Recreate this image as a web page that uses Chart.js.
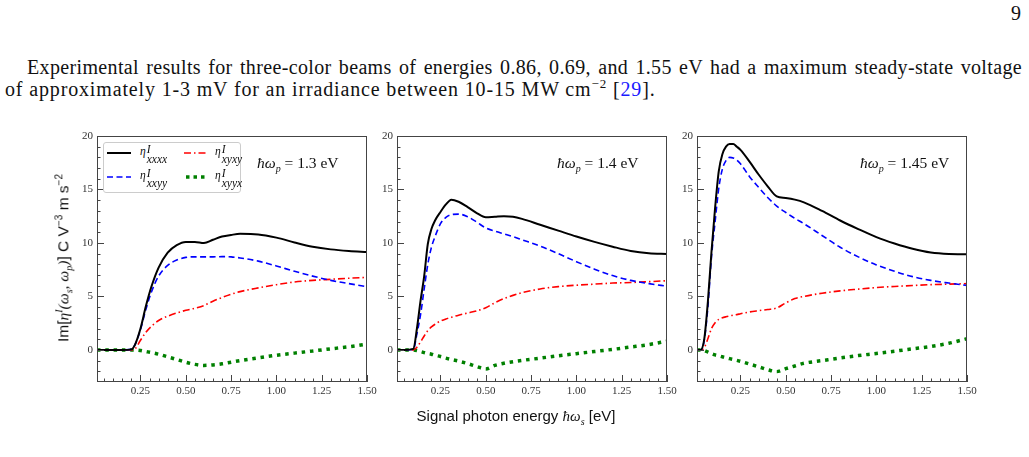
<!DOCTYPE html>
<html>
<head>
<meta charset="utf-8">
<script src="https://cdn.jsdelivr.net/npm/chart.js@4.4.1/dist/chart.umd.min.js"></script>
<style>
  body { margin: 0; width: 1029px; height: 457px; background: #fff; position: relative; overflow: hidden; font-family: "Liberation Serif", serif; color: #111; }
  .abs { position: absolute; white-space: nowrap; }
  .para { position: absolute; font-size: 20px; line-height: 22px; white-space: nowrap; }
  .panel { position: absolute; top: 130px; width: 314px; height: 274px; }
  .note { position: absolute; top: 154px; font-size: 15.5px; }
  .m { font-style: italic; }
  .legend { position: absolute; left: 103px; top: 142px; width: 136px; height: 49px; border: 1px solid #ccc; border-radius: 3px; background: #fff; }
  .legend span { position: absolute; font-size: 11.5px; font-style: italic; }
  .ss { display: inline-block; vertical-align: middle; line-height: 0.85; font-size: 6.5px; margin-left: 1px; }
  .ss b { display: block; font-weight: normal; }
  .sans { font-family: "Liberation Sans", Arial, sans-serif; }
</style>
</head>
<body>

<div class="abs" style="left:1011px; top:2px; font-size:20px;">9</div>
<div class="para" style="left:27px; top:56px; width:995px; letter-spacing:0.35px; text-align:justify; text-align-last:justify;">Experimental results for three-color beams of energies 0.86, 0.69, and 1.55 eV had a maximum steady-state voltage</div>
<div class="para" style="left:5px; top:78px; letter-spacing:0.85px;">of approximately 1-3 mV for an irradiance between 10-15 MW cm<sup style="font-size:13px; line-height:0;">−2</sup> [<span style="color:#1a1aff">29</span>].</div>

<div class="panel" style="left:65px;"><canvas id="c1" width="314" height="274"></canvas></div>
<div class="panel" style="left:365px;"><canvas id="c2" width="314" height="274"></canvas></div>
<div class="panel" style="left:665px;"><canvas id="c3" width="314" height="274"></canvas></div>

<div class="legend">
  <svg width="136" height="49" style="position:absolute;left:0;top:0">
    <line x1="3" y1="10" x2="27" y2="10" stroke="#000" stroke-width="2"/>
    <line x1="80" y1="10" x2="103" y2="10" stroke="#ff0000" stroke-width="1.6" stroke-dasharray="7 3 1.5 3"/>
    <line x1="3" y1="34" x2="27" y2="34" stroke="#0000ff" stroke-width="1.6" stroke-dasharray="6 3.5"/>
    <line x1="82" y1="34" x2="104" y2="34" stroke="#008000" stroke-width="3.5" stroke-dasharray="3.5 4"/>
  </svg>
  <span style="left:36px; top:2px;">η<span class="ss"><b>I</b><b>xxxx</b></span></span>
  <span style="left:111px; top:2px;">η<span class="ss"><b>I</b><b>xyxy</b></span></span>
  <span style="left:36px; top:26px;">η<span class="ss"><b>I</b><b>xxyy</b></span></span>
  <span style="left:111px; top:26px;">η<span class="ss"><b>I</b><b>xyyx</b></span></span>
</div>

<div class="abs note" style="left:257px;"><span class="m">ħω<sub style="font-size:10px">p</sub></span> = 1.3 eV</div>
<div class="abs note" style="left:557px;"><span class="m">ħω<sub style="font-size:10px">p</sub></span> = 1.4 eV</div>
<div class="abs note" style="left:860px;"><span class="m">ħω<sub style="font-size:10px">p</sub></span> = 1.45 eV</div>

<div class="abs sans" style="left:64px; top:258px; font-size:15.5px; transform:translate(-50%,-50%) rotate(-90deg);">Im[<span class="m" style="font-family:'Liberation Serif',serif">η<sup style="font-size:10px">I</sup>(ω<sub style="font-size:10px">s</sub>, ω<sub style="font-size:10px">p</sub>)</span>] C V<sup style="font-size:10px">−3</sup> m s<sup style="font-size:10px">−2</sup></div>

<div class="abs sans" style="left:516px; top:417px; font-size:15px; transform:translate(-50%,-50%);">Signal photon energy <span class="m" style="font-family:'Liberation Serif',serif">ħω<sub style="font-size:10px">s</sub></span> [eV]</div>

<script>
// signal photon energy grids (eV) and Im[eta] components
const energy1 = [0.01,0.05,0.10,0.15,0.20,0.22,0.25,0.28,0.31,0.35,0.40,0.45,0.50,0.55,0.60,0.65,0.70,0.75,0.80,0.90,1.00,1.10,1.20,1.30,1.40,1.50];
const xxxx1 = [0,0,0,0,0.05,0.5,2.0,4.1,5.9,7.7,9.1,9.8,10.1,10.1,10.0,10.3,10.6,10.75,10.85,10.8,10.5,10.05,9.65,9.4,9.25,9.15];
const xxyy1 = [0,0,0,0,0.05,0.5,1.9,3.8,5.4,6.9,7.9,8.4,8.65,8.7,8.7,8.7,8.72,8.7,8.6,8.3,7.85,7.35,6.9,6.5,6.2,5.9];
const xyxy1 = [0,0,0,0,0,0.1,0.9,1.65,2.2,2.75,3.15,3.45,3.7,3.9,4.15,4.55,4.9,5.2,5.45,5.8,6.1,6.35,6.5,6.6,6.7,6.78];
const xyyx1 = [0,0,0,0,0,0,-0.05,-0.15,-0.25,-0.4,-0.65,-0.9,-1.15,-1.35,-1.45,-1.4,-1.3,-1.15,-1.0,-0.75,-0.5,-0.3,-0.1,0.1,0.3,0.55];

const energy2 = [0.01,0.05,0.10,0.12,0.14,0.16,0.18,0.20,0.22,0.25,0.28,0.31,0.35,0.40,0.45,0.50,0.55,0.60,0.65,0.70,0.80,0.90,1.00,1.10,1.20,1.30,1.40,1.50];
const xxxx2 = [0,0,0.1,2.0,4.6,6.9,9.9,11.3,12.1,12.9,13.6,14.05,13.85,13.35,12.8,12.4,12.45,12.5,12.45,12.25,11.7,11.15,10.6,10.1,9.65,9.25,9.03,8.97];
const xxyy2 = [0,0,0.05,1.5,3.3,5.7,8.0,9.6,10.6,11.8,12.4,12.65,12.7,12.45,11.95,11.4,11.1,10.85,10.6,10.3,9.7,9.0,8.25,7.55,6.95,6.5,6.2,5.95];
const xyxy2 = [0,0,0,0.25,0.75,1.3,1.8,2.15,2.4,2.7,2.9,3.05,3.25,3.45,3.65,3.95,4.4,4.8,5.1,5.35,5.7,5.92,6.05,6.15,6.25,6.3,6.38,6.47];
const xyyx2 = [0,0,0,-0.05,-0.15,-0.25,-0.33,-0.4,-0.5,-0.62,-0.77,-0.9,-1.05,-1.28,-1.55,-1.78,-1.45,-1.25,-1.1,-0.98,-0.77,-0.55,-0.35,-0.15,0.05,0.27,0.5,0.82];

const energy3 = [0.01,0.03,0.05,0.07,0.09,0.11,0.13,0.15,0.17,0.19,0.21,0.23,0.25,0.30,0.35,0.40,0.45,0.50,0.55,0.60,0.70,0.80,0.90,1.00,1.10,1.20,1.30,1.40,1.50];
const xxxx3 = [0,0,1.0,4.5,9.2,13.3,16.7,18.3,19.0,19.25,19.25,19.0,18.7,17.6,16.4,15.3,14.35,14.2,14.05,13.8,13.0,12.1,11.3,10.55,9.95,9.45,9.1,8.97,8.95];
const xxyy3 = [0,0,0.9,4.0,8.7,12.0,15.1,16.9,17.7,18.0,17.95,17.75,17.4,16.2,15.2,14.25,13.45,12.85,12.3,11.8,10.7,9.6,8.7,7.95,7.35,6.85,6.5,6.25,6.03];
const xyxy3 = [0,0,0.2,1.05,2.0,2.55,2.85,3.0,3.1,3.18,3.25,3.3,3.38,3.55,3.67,3.78,3.92,4.4,4.8,5.0,5.3,5.52,5.68,5.83,5.93,6.02,6.1,6.15,6.2];
const xyyx3 = [0,0,-0.05,-0.2,-0.35,-0.47,-0.55,-0.64,-0.72,-0.82,-0.9,-0.98,-1.07,-1.32,-1.58,-1.85,-2.03,-1.75,-1.5,-1.25,-1.0,-0.75,-0.53,-0.33,-0.12,0.1,0.32,0.62,1.05];

const xTickLabels = [0.25, 0.50, 0.75, 1.00, 1.25, 1.50];
const yTickLabels = [0, 5, 10, 15, 20];

const tickFont = { family: "'Liberation Serif', 'Times New Roman', serif", size: 11 };
const axisColor = "#444";

// matplotlib style: frame on all sides, ticks pointing inward
const frameTicks = {
  id: "frameTicks",
  afterDraw(chart) {
    const { ctx, chartArea: a, scales: { x, y } } = chart;
    ctx.save();
    ctx.strokeStyle = axisColor;
    ctx.lineWidth = 1;
    ctx.strokeRect(a.left + 0.5, a.top + 0.5, a.width - 1, a.height - 1);
    ctx.beginPath();
    x.ticks.forEach(t => {
      const px = Math.round(x.getPixelForValue(t.value)) + 0.5;
      const len = t.label ? 7 : 3.5;
      ctx.moveTo(px, a.bottom);
      ctx.lineTo(px, a.bottom - len);
    });
    y.ticks.forEach(t => {
      const py = Math.round(y.getPixelForValue(t.value)) + 0.5;
      const len = t.label ? 7 : 3.5;
      ctx.moveTo(a.left, py);
      ctx.lineTo(a.left + len, py);
    });
    ctx.stroke();
    ctx.restore();
  }
};

function pts(xs, ys) {
  return xs.map((e, i) => ({ x: e, y: ys[i] }));
}

function makePanel(id, xs, xxxx, xxyy, xyxy, xyyx) {
  new Chart(document.getElementById(id), {
    type: "line",
    data: {
      datasets: [
        { label: "xxxx", data: pts(xs, xxxx), borderColor: "#000", borderWidth: 2 },
        { label: "xxyy", data: pts(xs, xxyy), borderColor: "#0000ff", borderWidth: 1.6, borderDash: [6, 3.5] },
        { label: "xyxy", data: pts(xs, xyxy), borderColor: "#ff0000", borderWidth: 1.6, borderDash: [7, 3, 1.5, 3] },
        { label: "xyyx", data: pts(xs, xyyx), borderColor: "#008000", borderWidth: 3.5, borderDash: [3.5, 4.8] }
      ]
    },
    options: {
      responsive: false,
      animation: false,
      layout: { padding: { top: 6, right: 12, left: 0, bottom: 0 } },
      elements: { point: { radius: 0 }, line: { cubicInterpolationMode: "monotone", fill: false } },
      plugins: { legend: { display: false }, tooltip: { enabled: false } },
      scales: {
        x: {
          type: "linear", min: 0.01, max: 1.5,
          grid: { display: false, drawTicks: false },
          border: { display: false },
          afterBuildTicks: s => {
            const t = [];
            for (let k = 1; k <= 30; k++) t.push({ value: Math.round(k * 5) / 100 });
            s.ticks = t;
          },
          afterFit: s => { s.height = 22; s.paddingLeft = 0; s.paddingRight = 0; },
          ticks: {
            autoSkip: false, maxRotation: 0, padding: 3, color: "#333", font: tickFont,
            callback: v => xTickLabels.some(l => Math.abs(l - v) < 1e-6) ? v.toFixed(2) : ""
          }
        },
        y: {
          min: -3, max: 20,
          grid: { display: false, drawTicks: false },
          border: { display: false },
          afterBuildTicks: s => {
            const t = [];
            for (let v = -2; v <= 20; v++) t.push({ value: v });
            s.ticks = t;
          },
          afterFit: s => { s.width = 32; s.paddingTop = 0; s.paddingBottom = 0; },
          ticks: {
            autoSkip: false, padding: 4, color: "#333", font: tickFont,
            callback: v => yTickLabels.includes(v) ? String(v) : ""
          }
        }
      }
    },
    plugins: [frameTicks]
  });
}

makePanel("c1", energy1, xxxx1, xxyy1, xyxy1, xyyx1);
makePanel("c2", energy2, xxxx2, xxyy2, xyxy2, xyyx2);
makePanel("c3", energy3, xxxx3, xxyy3, xyxy3, xyyx3);
</script>
</body>
</html>
